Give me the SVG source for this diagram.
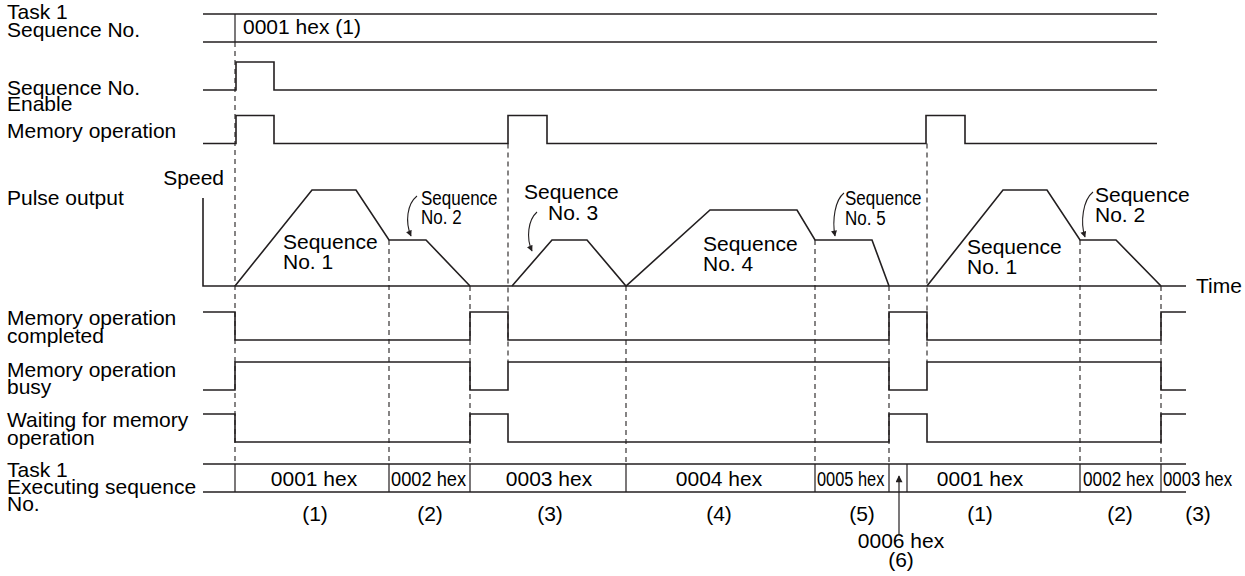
<svg xmlns="http://www.w3.org/2000/svg" width="1245" height="576" viewBox="0 0 1245 576">
<style>
text{font-family:"Liberation Sans",Arial,Helvetica,sans-serif;font-size:21px;fill:#000}
.m{text-anchor:middle}
.e{text-anchor:end}
.sig{fill:none;stroke:#231f20;stroke-width:1.6}
.thin{fill:none;stroke:#231f20;stroke-width:1.2}
.dash{fill:none;stroke:#231f20;stroke-width:1.1;stroke-dasharray:5 4}
.arc{fill:none;stroke:#231f20;stroke-width:1.1}
</style>
<defs>
<marker id="ah" viewBox="0 0 10 10" refX="9" refY="5" markerWidth="7" markerHeight="6" orient="auto" markerUnits="userSpaceOnUse"><path d="M0,0 L10,5 L0,10 z" fill="#231f20"/></marker>
<marker id="ahb" viewBox="0 0 10 10" refX="9" refY="5" markerWidth="10" markerHeight="7" orient="auto" markerUnits="userSpaceOnUse"><path d="M0,0 L10,5 L0,10 z" fill="#231f20"/></marker>
</defs>

<g id="labels">
<text x="7" y="19">Task 1<tspan x="7" y="37">Sequence No.</tspan></text>
<text x="7" y="95">Sequence No.<tspan x="7" y="111">Enable</tspan></text>
<text x="7" y="138">Memory operation</text>
<text x="7" y="205">Pulse output</text>
<text x="224" y="185" class="e">Speed</text>
<text x="7" y="325">Memory operation<tspan x="7" y="343">completed</tspan></text>
<text x="7" y="377">Memory operation<tspan x="7" y="394">busy</tspan></text>
<text x="7" y="427">Waiting for memory<tspan x="7" y="445">operation</tspan></text>
<text x="7" y="477">Task 1<tspan x="7" y="494">Executing sequence</tspan><tspan x="7" y="511">No.</tspan></text>
</g>

<g id="task1-seq-no">
<path class="sig" d="M203,14 H1157 M203,42 H1157"/>
<path class="thin" d="M235,14 V42"/>
<text x="243" y="34">0001 hex (1)</text>
</g>

<g id="seq-enable">
<path class="sig" d="M203,90 H236 V62 H274 V90 H1157"/>
</g>

<g id="memory-operation">
<path class="sig" d="M203,143.5 H236 V115.5 H274 V143.5 H508 V115.5 H547 V143.5 H926 V115.5 H965 V143.5 H1157"/>
</g>

<g id="pulse-output">
<path class="sig" d="M203,198 V286 H1186"/>
<path class="sig" d="M235,286 L312,190 H356 L389,240 H426 L470,286"/>
<path class="sig" d="M512,286 L552,240 H587 L626,286 L710,210 H797 L815,240 H872 L889,286"/>
<path class="sig" d="M927,286 L1003,190 H1047 L1080,240 H1116 L1161,286"/>
<text x="283" y="249">Sequence<tspan x="283" y="269">No. 1</tspan></text>
<text transform="translate(421,205) scale(0.81,1)">Sequence<tspan x="0" y="19">No. 2</tspan></text>
<text x="524" y="199">Sequence<tspan x="548" y="220">No. 3</tspan></text>
<text x="703" y="251">Sequence<tspan x="703" y="271">No. 4</tspan></text>
<text transform="translate(845,205) scale(0.81,1)">Sequence<tspan x="0" y="20">No. 5</tspan></text>
<text x="967" y="254">Sequence<tspan x="967" y="274">No. 1</tspan></text>
<text x="1095" y="202">Sequence<tspan x="1095" y="222">No. 2</tspan></text>
<text x="1196" y="293">Time</text>
</g>

<g id="mem-op-completed">
<path class="sig" d="M203,312 H235 V340 H470 V312 H508 V340 H889 V312 H927 V340 H1161 V312 H1186"/>
</g>

<g id="mem-op-busy">
<path class="sig" d="M203,390 H235 V362 H470 V390 H508 V362 H889 V390 H927 V362 H1161 V390 H1186"/>
</g>

<g id="waiting-mem-op">
<path class="sig" d="M203,414 H235 V442 H470 V414 H508 V442 H889 V414 H927 V442 H1161 V414 H1186"/>
</g>

<g id="executing-seq-no">
<path class="sig" d="M203,464 H1186 M203,492 H1186"/>
<path class="thin" d="M235,464 V492 M389,464 V492 M470,464 V492 M626,464 V492 M815,464 V492 M889,464 V492 M907,464 V492 M1080,464 V492 M1161,464 V492"/>
<text x="314" y="486" class="m">0001 hex</text>
<text transform="translate(391,486) scale(0.87,1)">0002 hex</text>
<text x="549" y="486" class="m">0003 hex</text>
<text x="719" y="486" class="m">0004 hex</text>
<text transform="translate(817,486) scale(0.78,1)">0005 hex</text>
<text x="980" y="486" class="m">0001 hex</text>
<text transform="translate(1083,486) scale(0.82,1)">0002 hex</text>
<text transform="translate(1163,486) scale(0.8,1)">0003 hex</text>
<text x="315" y="521" class="m">(1)</text>
<text x="430" y="521" class="m">(2)</text>
<text x="550" y="521" class="m">(3)</text>
<text x="719" y="521" class="m">(4)</text>
<text x="862" y="521" class="m">(5)</text>
<text x="980" y="521" class="m">(1)</text>
<text x="1120" y="521" class="m">(2)</text>
<text x="1198" y="521" class="m">(3)</text>
<text x="901" y="548" class="m">0006 hex<tspan x="901" y="567">(6)</tspan></text>
</g>

<g id="connectors">
<path class="dash" d="M235,42 V464 M389,240 V464 M470,286 V464 M508,143.5 V362 M626,286 V464 M815,240 V464 M889,286 V464 M927,143.5 V362 M1080,240 V464 M1161,286 V464"/>
<path class="arc" marker-end="url(#ah)" d="M417,196 C407,204 405,222 411,236"/>
<path class="arc" marker-end="url(#ah)" d="M537,212 C528,220 526,238 532,251"/>
<path class="arc" marker-end="url(#ah)" d="M844,193 C835,200 832,220 835,236"/>
<path class="arc" marker-end="url(#ah)" d="M1093,192 C1083,200 1080,222 1085,237"/>
<path class="thin" marker-end="url(#ahb)" d="M899,535 V476"/>
</g>
</svg>
